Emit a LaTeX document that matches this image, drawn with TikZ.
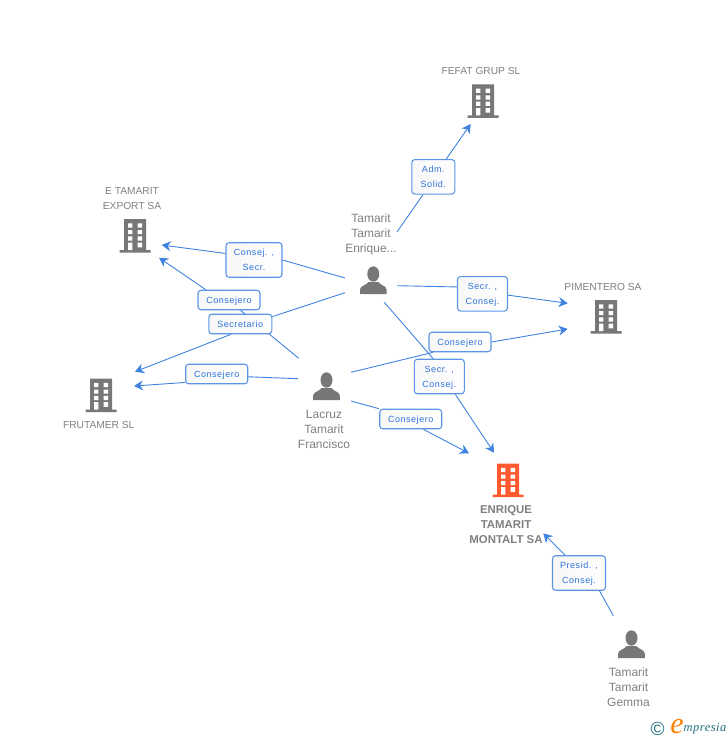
\documentclass[tikz,border=0pt]{standalone}
\usepackage{fontspec}
\setmainfont{Liberation Sans}
\newfontfamily\boxfont[LetterSpace=6]{Liberation Sans}
\newfontfamily\logofont[LetterSpace=4]{Liberation Serif}
\usetikzlibrary{positioning}
\usetikzlibrary{arrows.meta}
\usetikzlibrary{backgrounds}
\definecolor{myblue}{HTML}{3F82E0}
\definecolor{myedge}{HTML}{5C95E6}
\definecolor{mytext}{HTML}{2F73D8}
\definecolor{mygray}{HTML}{777777}
\definecolor{mylabel}{HTML}{808080}
\definecolor{myorange}{HTML}{FF5A2D}
\definecolor{myteal}{HTML}{1F6F80}
\tikzstyle{mycomment}=[inner sep=0pt,align=center,text=mylabel,font=\fontsize{10.2}{15}\selectfont]
\tikzstyle{myperson}=[mycomment,font=\fontsize{12}{15}\selectfont]
\tikzstyle{mymain}=[mycomment,font=\fontsize{11.4}{15}\selectfont\bfseries]
\tikzstyle{mybox}=[draw=myedge,line width=1.1,left color=black!3!white,right color=white,rounded corners=3,
                   minimum width=#1,inner sep=0pt,align=center,text=mytext,text depth=0pt,
                   font=\fontsize{9}{15}\selectfont\boxfont]
\tikzstyle{mysmallbox}=[mybox=#1,minimum height=19.5]
\tikzstyle{mybigbox}=[mybox=#1,minimum height=34.5]
\tikzstyle{myline}=[myblue,line width=0.9]
\tikzstyle{myarrow}=[-{Stealth[length=9,width=10]},myblue,line width=0.9]
\tikzset{
  mybuilding/.pic={
    \fill[#1] (-11,-16) rectangle (11,15.5) (-15.5,15) rectangle (15.5,17.5);
    \foreach \r in {-11.7,-5,1.3} {
      \fill[white] (-7,\r) rectangle (-2.7,\r+4.2) (2.7,\r) rectangle (7.2,\r+4.2);
    }
    \fill[white] (2.7,7.7) rectangle (7.2,12.3) (-7,7.7) rectangle (-2.7,15);
  },
  myhead/.pic={
    \fill[mygray] (0,-6.5) ellipse (6 and 7.7);
    \fill[mygray] (-13.3,13.5) -- (-13.3,9) .. controls (-13,5) and (-7,5) .. (-5,1.5)
      -- (5,1.5) .. controls (7,5) and (13,5) .. (13.3,9) -- (13.3,13.5) -- cycle;
  }
}
% line from an entity into a label box, then arrow out of the box
\def\connect(#1)!#2!#3!(#4){
  \begin{scope}[on background layer]
    \draw[myline] (#1) -- (#2);
    \draw[myarrow] (#3) -- (#4);
  \end{scope}
}
\begin{document}
\begin{tikzpicture}[x=1pt,y=-1pt]
  \useasboundingbox (0,0) rectangle (728,740);

  % COMPANIES
  \pic at (483,100.3) {mybuilding=mygray};
  \node[mycomment] (fefat) at (481,71) {FEFAT GRUP SL};
  \pic at (135,235) {mybuilding=mygray};
  \node[mycomment] (etam) at (132,198.5) {E TAMARIT\\EXPORT SA};
  \pic at (606,316) {mybuilding=mygray};
  \node[mycomment] (piment) at (603,287) {PIMENTERO SA};
  \pic at (101,394.5) {mybuilding=mygray};
  \node[mycomment] (frut) at (98.7,425) {FRUTAMER SL};
  \pic at (508,479.5) {mybuilding=myorange};
  \node[mymain] (enrique) at (506,524.5) {ENRIQUE\\TAMARIT\\MONTALT SA};

  % PEOPLE
  \pic at (373.3,280.5) {myhead};
  \node[myperson] (tam) at (371,234) {Tamarit\\Tamarit\\Enrique...};
  \pic at (326.5,386.5) {myhead};
  \node[myperson] (lacruz) at (324,429) {Lacruz\\Tamarit\\Francisco};
  \pic at (631.5,644.5) {myhead};
  \node[myperson] (gemma) at (628.5,687) {Tamarit\\Tamarit\\Gemma};

  % LABELS
  \node[mybigbox=43] (adm) at (433.3,176.8) {Adm.\\Solid.};
  \node[mybigbox=50] (secpim) at (482.5,293.8) {Secr. ,\\Consej.};
  \node[mybigbox=56] (consec) at (254,260) {Consej. ,\\Secr.};
  \node[mysmallbox=62] (consetam) at (229,300) {Consejero};
  \node[mysmallbox=63] (secre) at (240.3,324) {Secretario};
  \node[mysmallbox=62] (consfrut) at (216.7,374) {Consejero};
  \node[mysmallbox=62] (conspim) at (460,342) {Consejero};
  \node[mybigbox=50] (secenr) at (439.3,376.5) {Secr. ,\\Consej.};
  \node[mysmallbox=62] (consenr) at (410.7,419) {Consejero};
  \node[mybigbox=53] (presid) at (579,573) {Presid. ,\\Consej.};

  % FREE ENDS
  \coordinate (tam-fefat) at (397,232);
  \coordinate (tam-etam) at (345,278);
  \coordinate (tam-frut) at (345,292.7);
  \coordinate (tam-pim) at (397,285.7);
  \coordinate (tam-enr) at (384.3,302.3);
  \coordinate (lac-etam) at (298.7,358.3);
  \coordinate (lac-frut) at (298,378.7);
  \coordinate (lac-pim) at (351,372.3);
  \coordinate (lac-enr) at (351,401);
  \coordinate (gem-enr) at (613.3,615.7);
  \coordinate (to-fefat) at (470.7,124);
  \coordinate (to-etam1) at (161.7,245);
  \coordinate (to-etam2) at (159,257.7);
  \coordinate (to-frut1) at (135,371.7);
  \coordinate (to-frut2) at (134,386);
  \coordinate (to-pim1) at (567.7,303.3);
  \coordinate (to-pim2) at (567.7,329);
  \coordinate (to-enr1) at (469,453.3);
  \coordinate (to-enr2) at (494,452.7);
  \coordinate (to-enr3) at (543.3,533.3);

  % ARROWS
  \connect(tam-fefat)!adm.240!adm.54!(to-fefat);
  \connect(tam-etam)!consec.0!consec.167!(to-etam1);
  \connect(tam-frut)!secre.13!secre.228!(to-frut1);
  \connect(tam-pim)!secpim.165!secpim.-3!(to-pim1);
  \connect(tam-enr)!secenr.109!secenr.-48!(to-enr2);
  \connect(lac-etam)!consetam.-42!consetam.156!(to-etam2);
  \connect(lac-frut)!consfrut.-5!consfrut.195!(to-frut2);
  \connect(lac-pim)!conspim.201!conspim.0!(to-pim2);
  \connect(lac-enr)!consenr.162!consenr.-39!(to-enr1);
  \connect(gem-enr)!presid.-41!presid.128!(to-enr3);

  % LOGO
  \node[inner sep=0pt,text=myteal,font=\fontsize{19}{19}\selectfont] (logoc) at (657.7,729) {©};
  \node[inner sep=0pt,text=orange,font=\fontsize{30}{30}\selectfont\logofont\itshape] (logoe) at (677,727) {e};
  \node[inner sep=0pt,text=myteal,font=\fontsize{12.5}{15}\selectfont\logofont\itshape] (logom) at (705,729) {mpresia};
\end{tikzpicture}
\end{document}
